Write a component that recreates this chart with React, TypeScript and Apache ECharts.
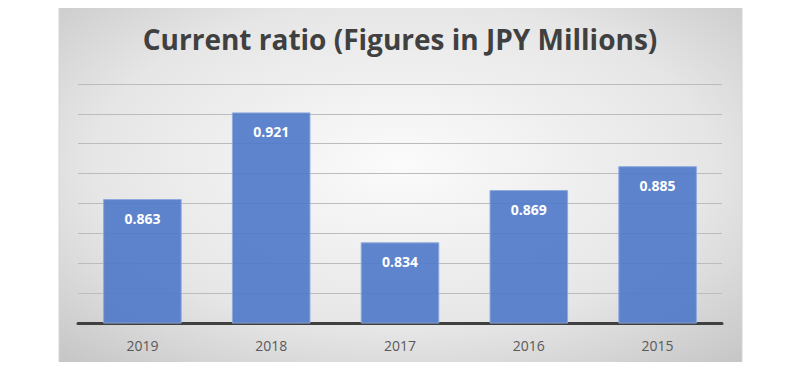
import React, { useEffect, useRef } from "react";
import * as echarts from "echarts";

const categories = ["2019", "2018", "2017", "2016", "2015"];
const ratios = [0.863, 0.921, 0.834, 0.869, 0.885];
const titleText = "Current ratio (Figures in JPY Millions)";

export default function App() {
  const ref = useRef<HTMLDivElement>(null);
  useEffect(() => {
    if (!ref.current) return;
    const chart = echarts.init(ref.current, undefined, { renderer: "svg" });
    chart.setOption({
      animation: false,
      graphic: [
        {
          type: "rect",
          z: -10,
          silent: true,
          shape: { x: 59, y: 2, width: 683, height: 364 },
          style: {
            fill: new echarts.graphic.RadialGradient(0.5, 0.45, 0.75, [
              { offset: 0, color: "#fbfbfb" },
              { offset: 0.6, color: "#e6e6e6" },
              { offset: 1, color: "#c4c4c4" },
            ]),
            stroke: "#d4d4d4",
            lineWidth: 1,
          },
        },
      ],
      title: {
        text: titleText,
        left: "center",
        top: 20,
        textStyle: {
          fontFamily: "Open Sans",
          fontWeight: "bold",
          fontSize: 28,
          color: "#404040",
        },
      },
      grid: { left: 78, right: 78, top: 84, bottom: 47 },
      xAxis: {
        type: "category",
        data: categories,
        axisLine: { lineStyle: { color: "#404040", width: 3 } },
        axisTick: { show: false },
        axisLabel: {
          color: "#595959",
          fontFamily: "Open Sans",
          fontSize: 14,
          margin: 15,
        },
      },
      yAxis: {
        type: "value",
        min: 0.78,
        max: 0.94,
        interval: 0.02,
        axisLabel: { show: false },
        axisLine: { show: false },
        axisTick: { show: false },
        splitLine: { lineStyle: { color: "#bcbcbc", width: 1 } },
      },
      series: [
        {
          type: "bar",
          data: ratios,
          barCategoryGap: "39%",
          itemStyle: {
            color: "rgba(76,120,200,0.9)",
            borderColor: "#8eaadc",
            borderWidth: 1,
          },
          label: {
            show: true,
            position: "insideTop",
            distance: 12,
            color: "#ffffff",
            fontFamily: "Open Sans",
            fontWeight: "bold",
            fontSize: 14,
            formatter: (p: any) => p.value.toFixed(3),
          },
        },
      ],
    });
    return () => chart.dispose();
  }, []);
  return <div ref={ref} style={{ width: 800, height: 370, margin: -8 }} />;
}
